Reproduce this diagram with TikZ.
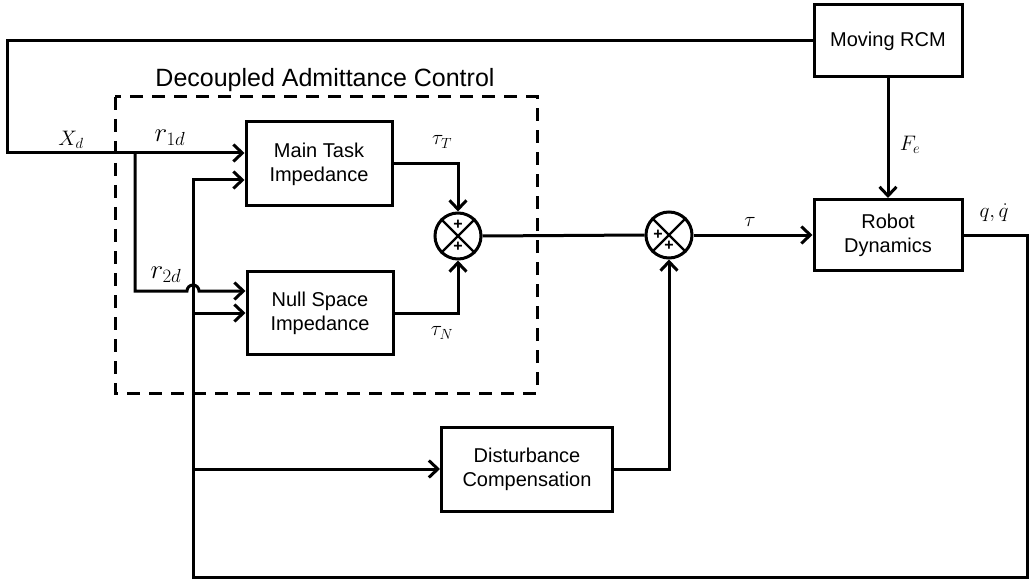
\RequirePackage{fix-cm}
\documentclass[tikz,border=0pt]{standalone}
\usepackage{fontspec}
\setmainfont{Liberation Sans}
\usetikzlibrary{arrows.meta}
\begin{document}
\begin{tikzpicture}[x=1pt,y=-1pt,
  lw/.style={line width=3pt},
  blockbox/.style={draw, lw, align=center, inner sep=0pt,
    font=\fontsize{20}{24}\selectfont},
  sumnode/.style={circle, draw, lw, minimum size=46pt, inner sep=0pt},
  conn/.style={lw},
  arr/.style={lw, -{Straight Barb[length=9pt,width=17pt]}},
  lbl/.style={inner sep=0pt, font=\fontsize{21}{24}\selectfont},
  biglbl/.style={inner sep=0pt, font=\fontsize{27}{30}\selectfont},
  plus/.style={inner sep=0pt, font=\bfseries\fontsize{16}{16}\selectfont},
  diag/.style={line width=2.2pt}
]
\useasboundingbox (0,0) rectangle (1029,583);

% blocks
\node[blockbox, minimum width=146pt, minimum height=84pt] (main) at (319,164) {Main Task\\Impedance};
\node[blockbox, minimum width=146pt, minimum height=83pt] (null) at (320,313) {Null Space\\Impedance};
\node[blockbox, minimum width=171pt, minimum height=84pt] (dist) at (527,469) {Disturbance\\Compensation};
\node[blockbox, minimum width=148pt, minimum height=72pt] (rcm) at (888,41) {Moving RCM};
\node[blockbox, minimum width=148pt, minimum height=71pt] (robot) at (888,235) {Robot\\Dynamics};

% summing junctions
\node[sumnode] (s1) at (458,236) {};
\node[sumnode] (s2) at (669,235) {};
\draw[diag] (s1.north east) -- (s1.south west) (s1.north west) -- (s1.south east);
\draw[diag] (s2.north east) -- (s2.south west) (s2.north west) -- (s2.south east);
\node[plus] (s1p1) at ([yshift=11pt]s1.center) {+};
\node[plus] (s1p2) at ([yshift=-11pt]s1.center) {+};
\node[plus] (s2p1) at ([xshift=-11pt]s2.center) {+};
\node[plus] (s2p2) at ([yshift=-11pt]s2.center) {+};

% dashed frame
\draw[lw, dash pattern=on 13pt off 9pt] (115,97) rectangle (537,393);
\node[inner sep=0pt, font=\fontsize{25}{28}\selectfont] (title) at (325,80) {Decoupled Admittance Control};

% coordinates
\coordinate (tl) at (7,41);
\coordinate (bl) at (7,153);
\coordinate (br) at (135,153);
\coordinate (bd) at (135,291);
\coordinate (hopL) at (187,291);
\coordinate (in1) at ([yshift=11pt]main.west);
\coordinate (in2) at ([yshift=-16pt]main.west);
\coordinate (nin1) at ([yshift=22pt]null.west);
\coordinate (fbtop) at (193,180);
\coordinate (fbn) at (193,313);
\coordinate (fbd) at (193,469);
\coordinate (fbbot) at (193,577);
\coordinate (rr) at (1027,235);
\coordinate (rb) at (1027,577);

% connectors
\draw[arr] (rcm.west) -- (tl) -- (bl) -- (in1);
\draw[arr] (br) -- (bd) -- (hopL) arc[start angle=180, end angle=0, radius=6pt] -- (nin1);
\draw[arr] (main.east) -| (s1.north);
\draw[arr] (null.east) -| (s1.south);
\draw[conn] (s1.east) -- (s2.west);
\draw[arr] (s2.east) -- (robot.west);
\draw[arr] (rcm.south) -- (robot.north);
\draw[arr] (dist.east) -| (s2.south);
\draw[arr] (robot.east) -- (rr) -- (rb) -- (fbbot) -- (fbtop) -- (in2);
\draw[arr] (fbn) -- (null.west);
\draw[arr] (fbd) -- (dist.west);

% labels
\node[lbl] (lxd) at (71,140) {$X_d$};
\node[biglbl] (lr1) at (170,138) {$r_{1d}$};
\node[biglbl] (lr2) at (166,275) {$r_{2d}$};
\node[lbl] (ltt) at (442,142) {$\tau_T$};
\node[lbl] (ltn) at (442,333) {$\tau_N$};
\node[lbl] (lt) at (750,222) {$\tau$};
\node[lbl] (lfe) at (910,145) {$F_e$};
\node[lbl] (lq) at (994,213) {$q,\dot q$};
\end{tikzpicture}
\end{document}
